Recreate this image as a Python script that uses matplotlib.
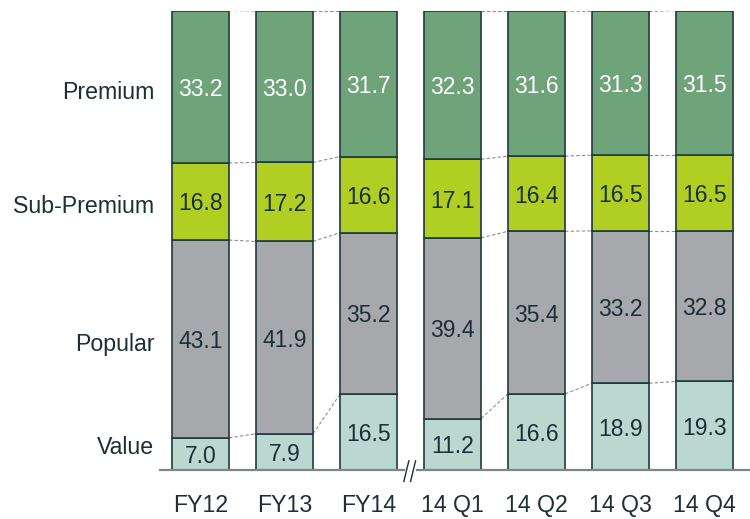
import matplotlib
matplotlib.use("Agg")
import matplotlib.pyplot as plt
import numpy as np

plt.rcParams['font.family'] = ['Liberation Sans', 'DejaVu Sans']

# data (share of volume, %)
periods = ["FY12", "FY13", "FY14", "14 Q1", "14 Q2", "14 Q3", "14 Q4"]
segments = ["Value", "Popular", "Sub-Premium", "Premium"]
value = [7.0, 7.9, 16.5, 11.2, 16.6, 18.9, 19.3]
popular = [43.1, 41.9, 35.2, 39.4, 35.4, 33.2, 32.8]
sub_premium = [16.8, 17.2, 16.6, 17.1, 16.4, 16.5, 16.5]
premium = [33.2, 33.0, 31.7, 32.3, 31.6, 31.3, 31.5]
groups = [[0, 1, 2], [3, 4, 5, 6]]   # fiscal years / quarters, connectors only within a group

colors = ["#bad8cf", "#a7a8ac", "#b0cf22", "#6fa37a"]
text_colors = ["#1c2e38", "#1c2e38", "#1c2e38", "white"]
edge = "#1f3a3f"
ink = "#1c2e38"

series = np.array([value, popular, sub_premium, premium])
x = np.arange(len(periods))
width = 0.68

fig = plt.figure(figsize=(7.5, 5.19), dpi=100)
ax = fig.add_axes([0.2133, 0.0944, 0.7867, 0.8844])

bottoms = np.zeros(len(periods))
for k in range(len(segments)):
    ax.bar(x, series[k], width, bottom=bottoms, color=colors[k],
           edgecolor=edge, linewidth=1.2, zorder=2)
    for i in range(len(periods)):
        ax.text(x[i], bottoms[i] + series[k][i] / 2, f"{series[k][i]:.1f}",
                ha="center", va="center_baseline", fontsize=16.5, color=text_colors[k], zorder=3)
    bottoms = bottoms + series[k]

# dashed connectors between neighbouring bars
cum = np.cumsum(series, axis=0)
for g in groups:
    for a, b in zip(g[:-1], g[1:]):
        for k in range(len(segments)):
            ax.plot([x[a] + width / 2, x[b] - width / 2], [cum[k][a], cum[k][b]],
                    ls=(0, (3, 2)), lw=0.8, color="#8a8f94", zorder=1)

# segment names on the left, near the middle of the first bar's segments
mids = cum[:, 0] - series[:, 0] / 2
for k in range(len(segments)):
    ax.text(-0.55, mids[k] + (1.5 if k == 0 else -1.2), segments[k], ha="right", va="center",
            fontsize=16.7, color=ink)

ax.set_xlim(-0.482, 6.54)
ax.set_ylim(0, 100)
for s in ax.spines.values():
    s.set_visible(False)
ax.set_yticks([])
ax.set_xticks(x)
ax.set_xticklabels(periods, fontsize=16.7, color=ink)
ax.tick_params(axis="x", length=0, pad=17)

# broken baseline with // marker between FY14 and 14 Q1
brk = (x[2] + x[3]) / 2
axis_col = "#7f8589"
ax.plot([-0.482, brk - 0.08], [0, 0], color=axis_col, lw=1.6, clip_on=False, zorder=4)
ax.plot([brk + 0.08, 6.54], [0, 0], color=axis_col, lw=1.6, clip_on=False, zorder=4)
for dx in (-0.05, 0.03):
    ax.plot([brk + dx - 0.03, brk + dx + 0.03], [-2.5, 2.0], color=ink, lw=1.0,
            clip_on=False, zorder=4)

fig.savefig("out.png", dpi=100)
